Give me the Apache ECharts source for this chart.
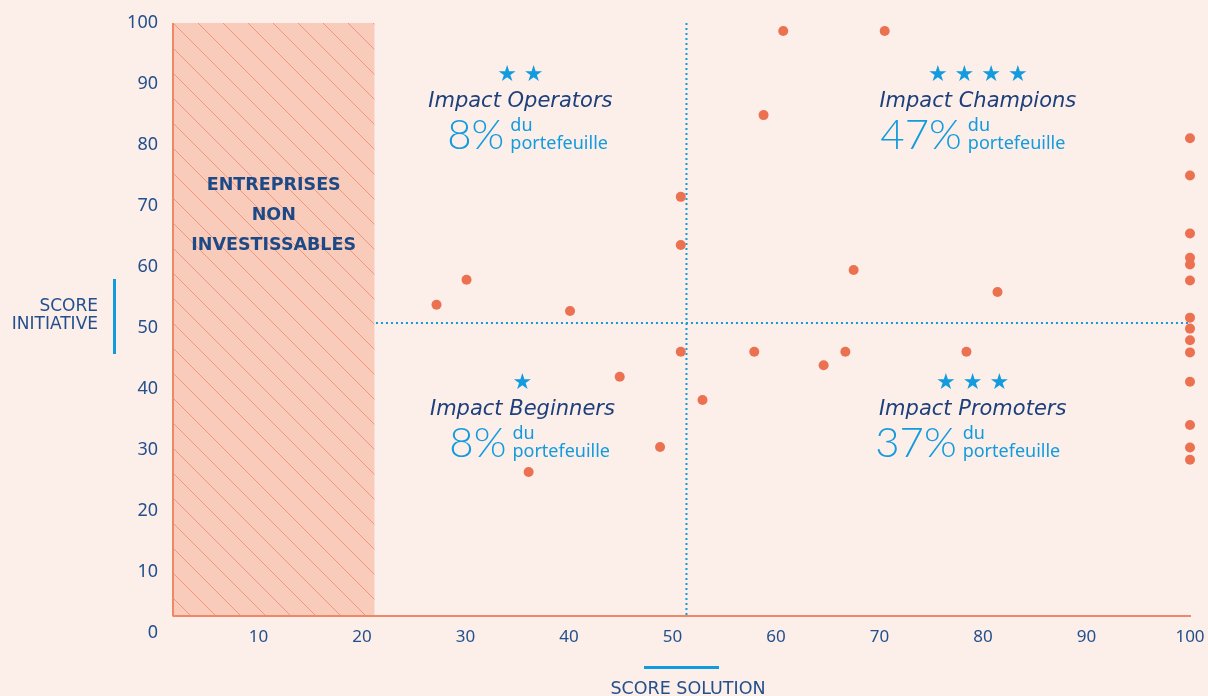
<!DOCTYPE html>
<html><head><meta charset="utf-8">
<script src="https://cdn.jsdelivr.net/npm/echarts@6/dist/echarts.min.js"></script>
<style>html,body{margin:0;padding:0;background:#FCEEE9}#c{width:1208px;height:696px}</style>
</head><body><div id="c"></div><script>
// ---- data ----
const solutionScores   = [27.2, 30.1, 40.1, 44.9, 36.1, 48.8, 50.8, 50.8, 50.8, 52.9, 57.9, 60.7, 58.8, 70.5, 67.5, 64.6, 66.7, 81.4, 78.4,
                          100, 100, 100, 100, 100, 100, 100, 100, 100, 100, 100, 100, 100, 100];
const initiativeScores = [53.8, 57.9, 52.8, 42.0, 26.4, 30.5, 71.5, 63.6, 46.1, 38.2, 46.1, 98.7, 84.9, 98.7, 59.5, 43.9, 46.1, 55.9, 46.1,
                          81.1, 75.0, 65.5, 61.5, 60.4, 57.8, 51.7, 49.9, 48.0, 46.0, 41.2, 34.1, 30.4, 28.4];
const quadrantNames  = ['Impact Operators', 'Impact Champions', 'Impact Beginners', 'Impact Promoters'];
const quadrantShares = ['8%', '47%', '8%', '37%'];
const quadrantStars  = [2, 4, 1, 3];
const quadrantAnchorX = [35.3, 79.5, 35.5, 79.0];
const quadrantAnchorY = [87.2, 87.2, 36.7, 36.7];
const solutionThreshold = 51.35;
const initiativeThreshold = 50.8;
const excludedZone = [1.74, 21.2, 2.8, 100]; // xFrom, xTo, yFrom, yTo
const axisOrigin = [1.74, 2.8];
const axisEndX = 102;
const excludedLabel = 'ENTREPRISES\nNON\nINVESTISSABLES';
const xTitle = 'SCORE SOLUTION';
const yTitle = 'SCORE\nINITIATIVE';

// ---- styles ----
const NAVY = '#23508C', TITLE_NAVY = '#1D3F7B', BLUE = '#129BDE', CORAL = '#EC7151', AXIS = '#EF8868';

function makeHatch() {
  const s = 25, c = document.createElement('canvas'); c.width = c.height = s;
  const g = c.getContext('2d');
  g.fillStyle = '#F8CBBB'; g.fillRect(0, 0, s, s);
  g.strokeStyle = '#F0967A'; g.lineWidth = 1;
  g.beginPath();
  g.moveTo(-2, -2); g.lineTo(s + 2, s + 2);
  g.moveTo(-2, s - 2); g.lineTo(2, s + 2);
  g.moveTo(s - 2, -2); g.lineTo(s + 2, 2);
  g.stroke();
  return c;
}
const hatch = makeHatch();

const chart = echarts.init(document.getElementById('c'));
const pts = solutionScores.map((x, i) => [x, initiativeScores[i]]);

chart.setOption({
  backgroundColor: '#FCEEE9',
  animation: false,
  grid: { left: 155, right: 18, top: 23, bottom: 63 },
  xAxis: {
    type: 'value', min: 0, max: 100, interval: 10,
    axisLine: { show: false }, axisTick: { show: false }, splitLine: { show: false },
    axisLabel: { showMinLabel: false, margin: -4, color: NAVY, fontSize: 17, fontFamily: 'Noto Sans' }
  },
  yAxis: {
    type: 'value', min: 0, max: 100, interval: 10,
    axisLine: { show: false }, axisTick: { show: false }, splitLine: { show: false },
    axisLabel: { margin: -3, color: NAVY, fontSize: 18, fontFamily: 'Noto Sans' }
  },
  series: [
    {
      type: 'custom', z: 1, silent: true,
      data: [excludedZone],
      encode: { x: [0, 1], y: [2, 3] },
      renderItem(params, api) {
        const p0 = api.coord([api.value(0), api.value(3)]);
        const p1 = api.coord([api.value(1), api.value(2)]);
        const ty = api.coord([0, 68.4])[1];
        return { type: 'group', children: [
          { type: 'rect', shape: { x: p0[0], y: p0[1], width: p1[0] - p0[0], height: p1[1] - p0[1] },
            style: { fill: { image: hatch, repeat: 'repeat' } } },
          { type: 'text', x: (p0[0] + p1[0]) / 2, y: ty,
            style: { text: excludedLabel, align: 'center', verticalAlign: 'middle',
              fontFamily: 'DejaVu Sans', fontWeight: 'bold', fontSize: 17.5, lineHeight: 30, fill: '#1D4A86' } }
        ]};
      }
    },
    { type: 'line', z: 2, silent: true, symbol: 'none', clip: false,
      data: [[axisOrigin[0], 100], [axisOrigin[0], axisOrigin[1]], [axisEndX, axisOrigin[1]]],
      lineStyle: { color: AXIS, width: 2 } },
    { type: 'line', z: 2, silent: true, symbol: 'none', clip: false,
      data: [[solutionThreshold, 100], [solutionThreshold, axisOrigin[1]]],
      lineStyle: { color: BLUE, width: 2, type: [2, 3] } },
    { type: 'line', z: 2, silent: true, symbol: 'none', clip: false,
      data: [[excludedZone[1] + 0.15, initiativeThreshold], [100.7, initiativeThreshold]],
      lineStyle: { color: BLUE, width: 2, type: [2, 3] } },
    { type: 'scatter', z: 3, clip: false, data: pts, symbolSize: 10,
      itemStyle: { color: CORAL, opacity: 1 } }
  ]
});

// annotations positioned from data coordinates
const gfx = [];
quadrantNames.forEach((name, i) => {
  const [cx, cy] = chart.convertToPixel({ gridIndex: 0 }, [quadrantAnchorX[i], quadrantAnchorY[i]]);
  gfx.push({ type: 'text', x: cx, y: cy - 26, style: { text: Array(quadrantStars[i]).fill('★').join(' '),
    align: 'center', verticalAlign: 'middle', fontFamily: 'DejaVu Sans', fontSize: 22, fill: BLUE } });
  gfx.push({ type: 'text', x: cx, y: cy, style: { text: name, align: 'center', verticalAlign: 'middle',
    fontFamily: 'DejaVu Sans', fontStyle: 'italic', fontSize: 21, fill: TITLE_NAVY } });
  gfx.push({ type: 'text', x: cx - 16, y: cy + 34, style: { text: quadrantShares[i], align: 'right', verticalAlign: 'middle',
    fontFamily: 'Lato', fontWeight: 300, fontSize: 42, fill: BLUE } });
  gfx.push({ type: 'text', x: cx - 10, y: cy + 25, style: { text: 'du', align: 'left', verticalAlign: 'middle',
    fontFamily: 'Noto Sans', fontSize: 18, fill: BLUE } });
  gfx.push({ type: 'text', x: cx - 10, y: cy + 43, style: { text: 'portefeuille', align: 'left', verticalAlign: 'middle',
    fontFamily: 'Noto Sans', fontSize: 18, fill: BLUE } });
});
gfx.push({ type: 'text', x: 98, y: 316, style: { text: yTitle, align: 'right', verticalAlign: 'middle',
  fontFamily: 'DejaVu Sans', fontSize: 17, lineHeight: 18, fill: NAVY } });
gfx.push({ type: 'rect', shape: { x: 113, y: 279, width: 3, height: 75 }, style: { fill: BLUE } });
gfx.push({ type: 'text', x: 688, y: 689, style: { text: xTitle, align: 'center', verticalAlign: 'middle',
  fontFamily: 'DejaVu Sans', fontSize: 17.5, fill: NAVY } });
gfx.push({ type: 'rect', shape: { x: 644, y: 666, width: 75, height: 3 }, style: { fill: BLUE } });
chart.setOption({ graphic: gfx });
</script></body></html>
